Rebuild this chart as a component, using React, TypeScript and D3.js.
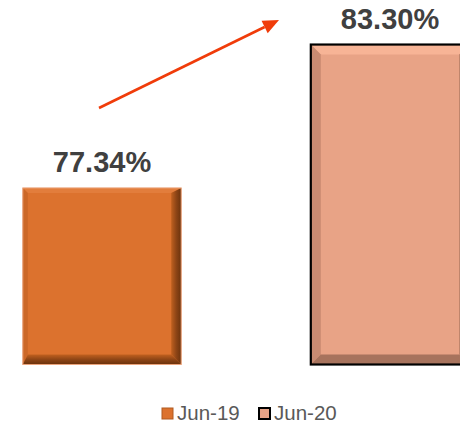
import React from "react";
import * as d3 from "d3";

const categories = ["Jun-19", "Jun-20"];
const values = [77.34, 83.3];
const yDomain = [70, 84];

const W = 460;
const H = 423;

type Style = {
  fill: string;
  top: string;
  left: string;
  right: string;
  bottom: string;
  stroke: string;
  strokeWidth: number;
  bTL: number;
  bBR: number;
};

const styles: Style[] = [
  { fill: "#dc722e", top: "#e27d3c", left: "#cc6828", right: "url(#gR1)", bottom: "url(#gB1)", stroke: "#eba47c", strokeWidth: 1, bTL: 5, bBR: 10 },
  { fill: "#e8a386", top: "#f7b496", left: "#c98b72", right: "#b57d66", bottom: "#a7735d", stroke: "#000", strokeWidth: 2.2, bTL: 10, bBR: 10 },
];

function Bevel({ x, y, w, h, s }: { x: number; y: number; w: number; h: number; s: Style }) {
  const a = s.bTL;
  const b = s.bBR;
  const p = (pts: number[][]) => pts.map((q) => q.join(",")).join(" ");
  return (
    <g>
      <rect x={x} y={y} width={w} height={h} fill={s.fill} />
      <polygon points={p([[x, y], [x + w, y], [x + w - b, y + a], [x + a, y + a]])} fill={s.top} />
      <polygon points={p([[x, y], [x + a, y + a], [x + a, y + h - b], [x, y + h]])} fill={s.left} />
      <polygon points={p([[x + w, y], [x + w, y + h], [x + w - b, y + h - b], [x + w - b, y + a]])} fill={s.right} />
      <polygon points={p([[x, y + h], [x + a, y + h - b], [x + w - b, y + h - b], [x + w, y + h]])} fill={s.bottom} />
      <rect x={x} y={y} width={w} height={h} fill="none" stroke={s.stroke} strokeWidth={s.strokeWidth} />
    </g>
  );
}

export default function App() {
  const x = d3.scaleBand<string>().domain(categories).range([-42, 534]).paddingInner(0.45).paddingOuter(0.225);
  const y = d3.scaleLinear().domain(yDomain).range([364.5, 27.7]);
  const fmt = (v: number) => d3.format(".2f")(v) + "%";

  const ax0 = 99, ay0 = 108, ax1 = 279, ay1 = 20;
  const ang = Math.atan2(ay1 - ay0, ax1 - ax0);
  const hl = 16, hw = 7;
  const bx = ax1 - hl * Math.cos(ang), by = ay1 - hl * Math.sin(ang);
  const head = [
    [ax1, ay1],
    [bx + hw * Math.sin(ang), by - hw * Math.cos(ang)],
    [bx - hw * Math.sin(ang), by + hw * Math.cos(ang)],
  ].map((q) => q.join(",")).join(" ");

  const legendX = [162, 259];

  return (
    <div style={{ position: "absolute", left: 0, top: 0 }}>
      <svg width={W} height={H} style={{ display: "block", fontFamily: "'Liberation Sans', Arial, sans-serif" }}>
        <defs>
          <linearGradient id="gR1" x1="0" x2="1" y1="0" y2="0">
            <stop offset="0" stopColor="#c0601f" />
            <stop offset="0.5" stopColor="#8e4516" />
            <stop offset="1" stopColor="#6a320c" />
          </linearGradient>
          <linearGradient id="gB1" x1="0" x2="0" y1="0" y2="1">
            <stop offset="0" stopColor="#c0601f" />
            <stop offset="0.5" stopColor="#8e4516" />
            <stop offset="1" stopColor="#6a320c" />
          </linearGradient>
        </defs>
        {categories.map((c, i) => {
          const x0 = x(c)!;
          const w = x.bandwidth();
          const y0 = y(values[i]);
          const h = y(yDomain[0]) - y0;
          return (
            <g key={c}>
              <Bevel x={x0} y={y0} w={w} h={h} s={styles[i]} />
              <text x={x0 + w / 2} y={y0 - 16} textAnchor="middle" fontSize={29} fontWeight="bold" fill="#404040">
                {fmt(values[i])}
              </text>
            </g>
          );
        })}
        <line x1={ax0} y1={ay0} x2={bx} y2={by} stroke="#f03c0a" strokeWidth={2.6} />
        <polygon points={head} fill="#f03c0a" />
        {categories.map((c, i) => (
          <g key={"lg" + c}>
            <rect x={legendX[i]} y={408} width={11} height={11} fill={styles[i].fill}
              stroke={i === 1 ? "#000" : "#b05a20"} strokeWidth={i === 1 ? 2 : 1} />
            <text x={legendX[i] + 15} y={420} fontSize={20.5} fill="#595959">{c}</text>
          </g>
        ))}
      </svg>
    </div>
  );
}
